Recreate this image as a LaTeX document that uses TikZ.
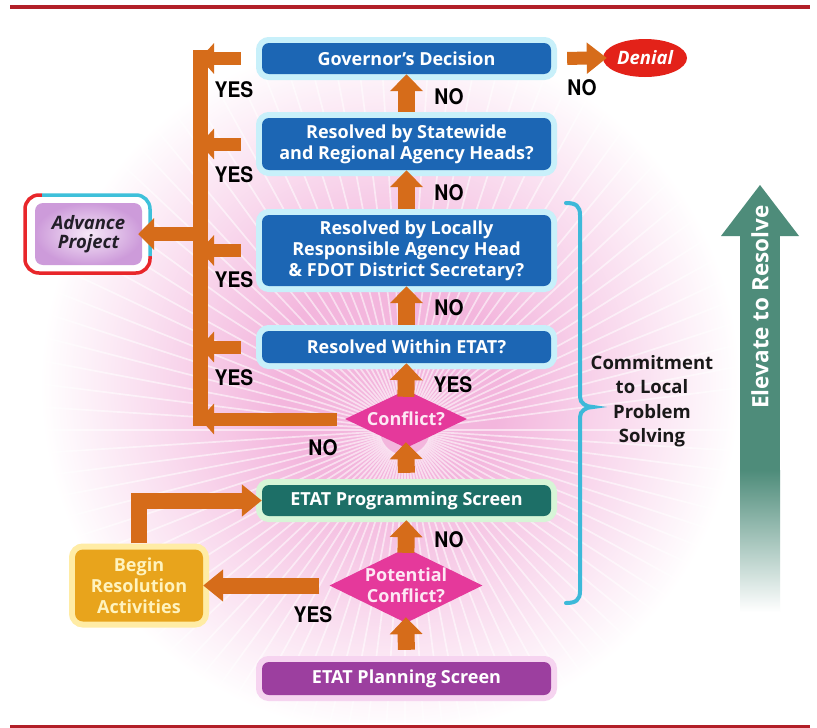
\documentclass[tikz,border=0pt]{standalone}
\usepackage{fontspec}
\setmainfont{Open Sans}
\newfontfamily\labfont[FakeStretch=0.9]{TeX Gyre Heros}
\usetikzlibrary{arrows.meta,shapes.geometric}
\definecolor{arrcol}{RGB}{214,108,26}
\definecolor{boxblue}{RGB}{28,102,180}
\definecolor{glowblue}{RGB}{200,240,250}
\definecolor{boxteal}{RGB}{29,111,103}
\definecolor{glowgreen}{RGB}{215,245,215}
\definecolor{boxpurple}{RGB}{156,63,159}
\definecolor{glowpink}{RGB}{246,212,240}
\definecolor{diampink}{RGB}{229,57,155}
\definecolor{diamtext}{RGB}{253,232,244}
\definecolor{begincol}{RGB}{232,164,28}
\definecolor{beginglow}{RGB}{255,236,165}
\definecolor{begintext}{RGB}{255,243,190}
\definecolor{denialred}{RGB}{227,34,25}
\definecolor{elevcol}{RGB}{78,140,122}
\definecolor{bracecol}{RGB}{61,185,217}
\definecolor{rulered}{RGB}{178,32,40}
\definecolor{bgpink}{RGB}{243,182,221}
\definecolor{lilac}{RGB}{205,155,218}
\definecolor{lilaclight}{RGB}{246,232,248}
\definecolor{advred}{RGB}{232,38,42}
\definecolor{advcyan}{RGB}{62,192,218}
\pgfdeclareradialshading{burst}{\pgfpoint{0bp}{0bp}}{color(0bp)=(bgpink); color(8bp)=(bgpink); color(25bp)=(white); color(50bp)=(white)}
\begin{document}
\begin{tikzpicture}[x=1pt,y=-1pt,
  boxtext/.style={font=\bfseries\fontsize{18}{21}\selectfont, text=white, align=center},
  flowbox/.style={boxtext, rectangle, rounded corners=7, minimum width=289, inner sep=0},
  bluebox/.style={flowbox, fill=boxblue, preaction={draw=glowblue, line width=12}},
  tealbox/.style={flowbox, fill=boxteal, preaction={draw=glowgreen, line width=12}},
  purpbox/.style={flowbox, fill=boxpurple, preaction={draw=glowpink, line width=12}},
  diam/.style={diamond, fill=diampink, inner sep=0},
  diamlabel/.style={boxtext, text=diamtext, inner sep=0},
  beginbox/.style={boxtext, text=begintext, rectangle, rounded corners=8, fill=begincol, minimum width=128, minimum height=72, inner sep=0, preaction={draw=beginglow, line width=12}},
  lab/.style={font=\labfont\bfseries\fontsize{21.5}{21.5}\selectfont, inner sep=0},
  harr/.style={draw=arrcol, line width=13, -{Triangle[length=14pt,width=30pt]}},
  varr/.style={draw=arrcol, line width=17, -{Triangle[length=17pt,width=32pt]}},
  barr/.style={draw=arrcol, line width=16, line join=miter, -{Triangle[length=20pt,width=31pt]}}
]
\path[use as bounding box] (0,0) rectangle (817,728);
\fill[white] (0,0) rectangle (817,728);
% background burst
\begin{scope}
  \clip (0,12) rectangle (817,722);
  \shade[shading=burst] (390,385) circle (350);
  \begin{scope}[shift={(405,430)}]
    \foreach \a in {0,3.6,...,356.4}
      \draw[white, line width=1.7, opacity=0.55] (\a:25) -- (\a:470);
  \end{scope}
\end{scope}
% rules
\draw[rulered, line width=4] (10,7) -- (810,7);
\draw[rulered, line width=3] (10,726) -- (810,726);

% nodes
\node[bluebox, minimum height=31] (gov) at (406.5,58.5) {Governor’s Decision};
\node[bluebox, minimum height=52] (stw) at (406.5,144) {Resolved by Statewide\\and Regional Agency Heads?};
\node[bluebox, minimum height=71] (loc) at (406.5,250.5) {\fontsize{18}{20.3}\selectfont Resolved by Locally\\Responsible Agency Head\\\& FDOT District Secretary?};
\node[bluebox, minimum height=32] (win) at (406.5,347) {Resolved Within ETAT?};
\node[diam, minimum width=122, minimum height=58] (con) at (406,419) {};
\node[diamlabel] (contxt) at (con.center) {Conflict?};
\node[tealbox, minimum height=31] (prog) at (406.5,500.5) {ETAT Programming Screen};
\node[diam, minimum width=153, minimum height=75] (pot) at (406,585.5) {};
\node[diamlabel] (pottxt) at (pot.center) {Potential\\Conflict?};
\node[purpbox, minimum height=33] (plan) at (406.5,678.5) {ETAT Planning Screen};
\node[beginbox] (beg) at (139,585.5) {Begin\\Resolution\\Activities};
\node[ellipse, fill=denialred, minimum width=84, minimum height=38, inner sep=0, text=white, font=\bfseries\itshape\fontsize{18.5}{20}\selectfont] (den) at (645,58) {Denial};

% advance project box
\fill[white, rounded corners=14] (25,195) rectangle (150,273);
\draw[advred, line width=3.5, rounded corners=14] (42,195) -- (25,195) -- (25,273) -- (150,273) -- (150,256);
\draw[advcyan, line width=3.5, rounded corners=14] (42,195) -- (150,195) -- (150,256);
\node[rectangle, rounded corners=8, inner color=lilaclight, outer color=lilac, minimum width=107, minimum height=62, inner sep=0, align=center, text={rgb,255:red,34;green,30;blue,40}, font=\bfseries\itshape\fontsize{18.5}{19.5}\selectfont] (adv) at (88.5,234) {Advance\\Project};

% bar
\coordinate (bartop) at (200,50);
\coordinate (barbot) at (200,426);
\draw[arrcol, line width=15] (bartop) -- (barbot);
\coordinate (y1) at (200,58.5);
\coordinate (y2) at (200,144);
\coordinate (y3) at (200,250.5);
\coordinate (y4) at (200,347);
\coordinate (y5) at (200,419);
\coordinate (advsrc) at (200,234);

% connectors
\draw[harr, shorten <=21] (gov.west) -- (y1);
\draw[harr, shorten <=21] (stw.west) -- (y2);
\draw[harr, shorten <=21] (loc.west) -- (y3);
\draw[harr, shorten <=21] (win.west) -- (y4);
\draw[harr, shorten <=8] (con.west) -- (y5);
\draw[harr, line width=14, -{Triangle[length=16pt,width=31pt]}, shorten >=-4] (advsrc) -- (adv.east);
\draw[harr, -{Triangle[length=20pt,width=30pt]}, shorten <=16, shorten >=-4] (gov.east) -- (den.west);
\draw[varr, shorten <=6] (stw.north) -- (gov.south);
\draw[varr, shorten <=6] (loc.north) -- (stw.south);
\draw[varr, shorten <=6] (win.north) -- (loc.south);
\draw[varr, shorten <=-7] (con.north) -- (win.south);
\draw[varr, shorten <=12, shorten >=-6] (prog.north) -- (con.south);
\draw[varr, shorten <=-5, shorten >=4] (pot.north) -- (prog.south);
\draw[varr, shorten <=12, shorten >=-6] (plan.north) -- (pot.south);
\draw[barr, shorten <=6] (beg.north) |- (prog.west);
\draw[barr, shorten <=10] (pot.west) -- (beg.east);

% labels
\node[lab] (yes1) at (234,90) {YES};
\node[lab] (yes2) at (234,175) {YES};
\node[lab] (yes3) at (234,280) {YES};
\node[lab] (yes4) at (234,378) {YES};
\node[lab] (no1) at (449,97) {NO};
\node[lab] (no2) at (449,193) {NO};
\node[lab] (no3) at (449,308) {NO};
\node[lab] (no4) at (582,88) {NO};
\node[lab] (yes5) at (453,385) {YES};
\node[lab] (no5) at (323,448) {NO};
\node[lab] (no6) at (449,540) {NO};
\node[lab] (yes6) at (313,615) {YES};

% brace
\draw[bracecol, line width=4, line cap=round] (566,203) .. controls (576,203) and (580,206) .. (580,215) -- (580,397) .. controls (580,403) and (586,407) .. (593,407) .. controls (586,407) and (580,411) .. (580,417) -- (580,591) .. controls (580,600) and (576,603) .. (566,603);
\node[align=center, text={rgb,255:red,25;green,25;blue,25}, font=\bfseries\fontsize{18.5}{24.5}\selectfont] (commit) at (652,401) {Commitment\\to Local\\Problem\\Solving};

% elevate arrow
\fill[elevcol] (740,234) rectangle (780,472);
\shade[top color=elevcol, bottom color=white] (740,470) rectangle (780,612);
\fill[elevcol] (721,236) -- (760,185) -- (799,236) -- cycle;
\node[rotate=90, text=white, font=\bfseries\fontsize{22.5}{26}\selectfont] (elevtxt) at (760,307) {Elevate to Resolve};
\end{tikzpicture}
\end{document}
